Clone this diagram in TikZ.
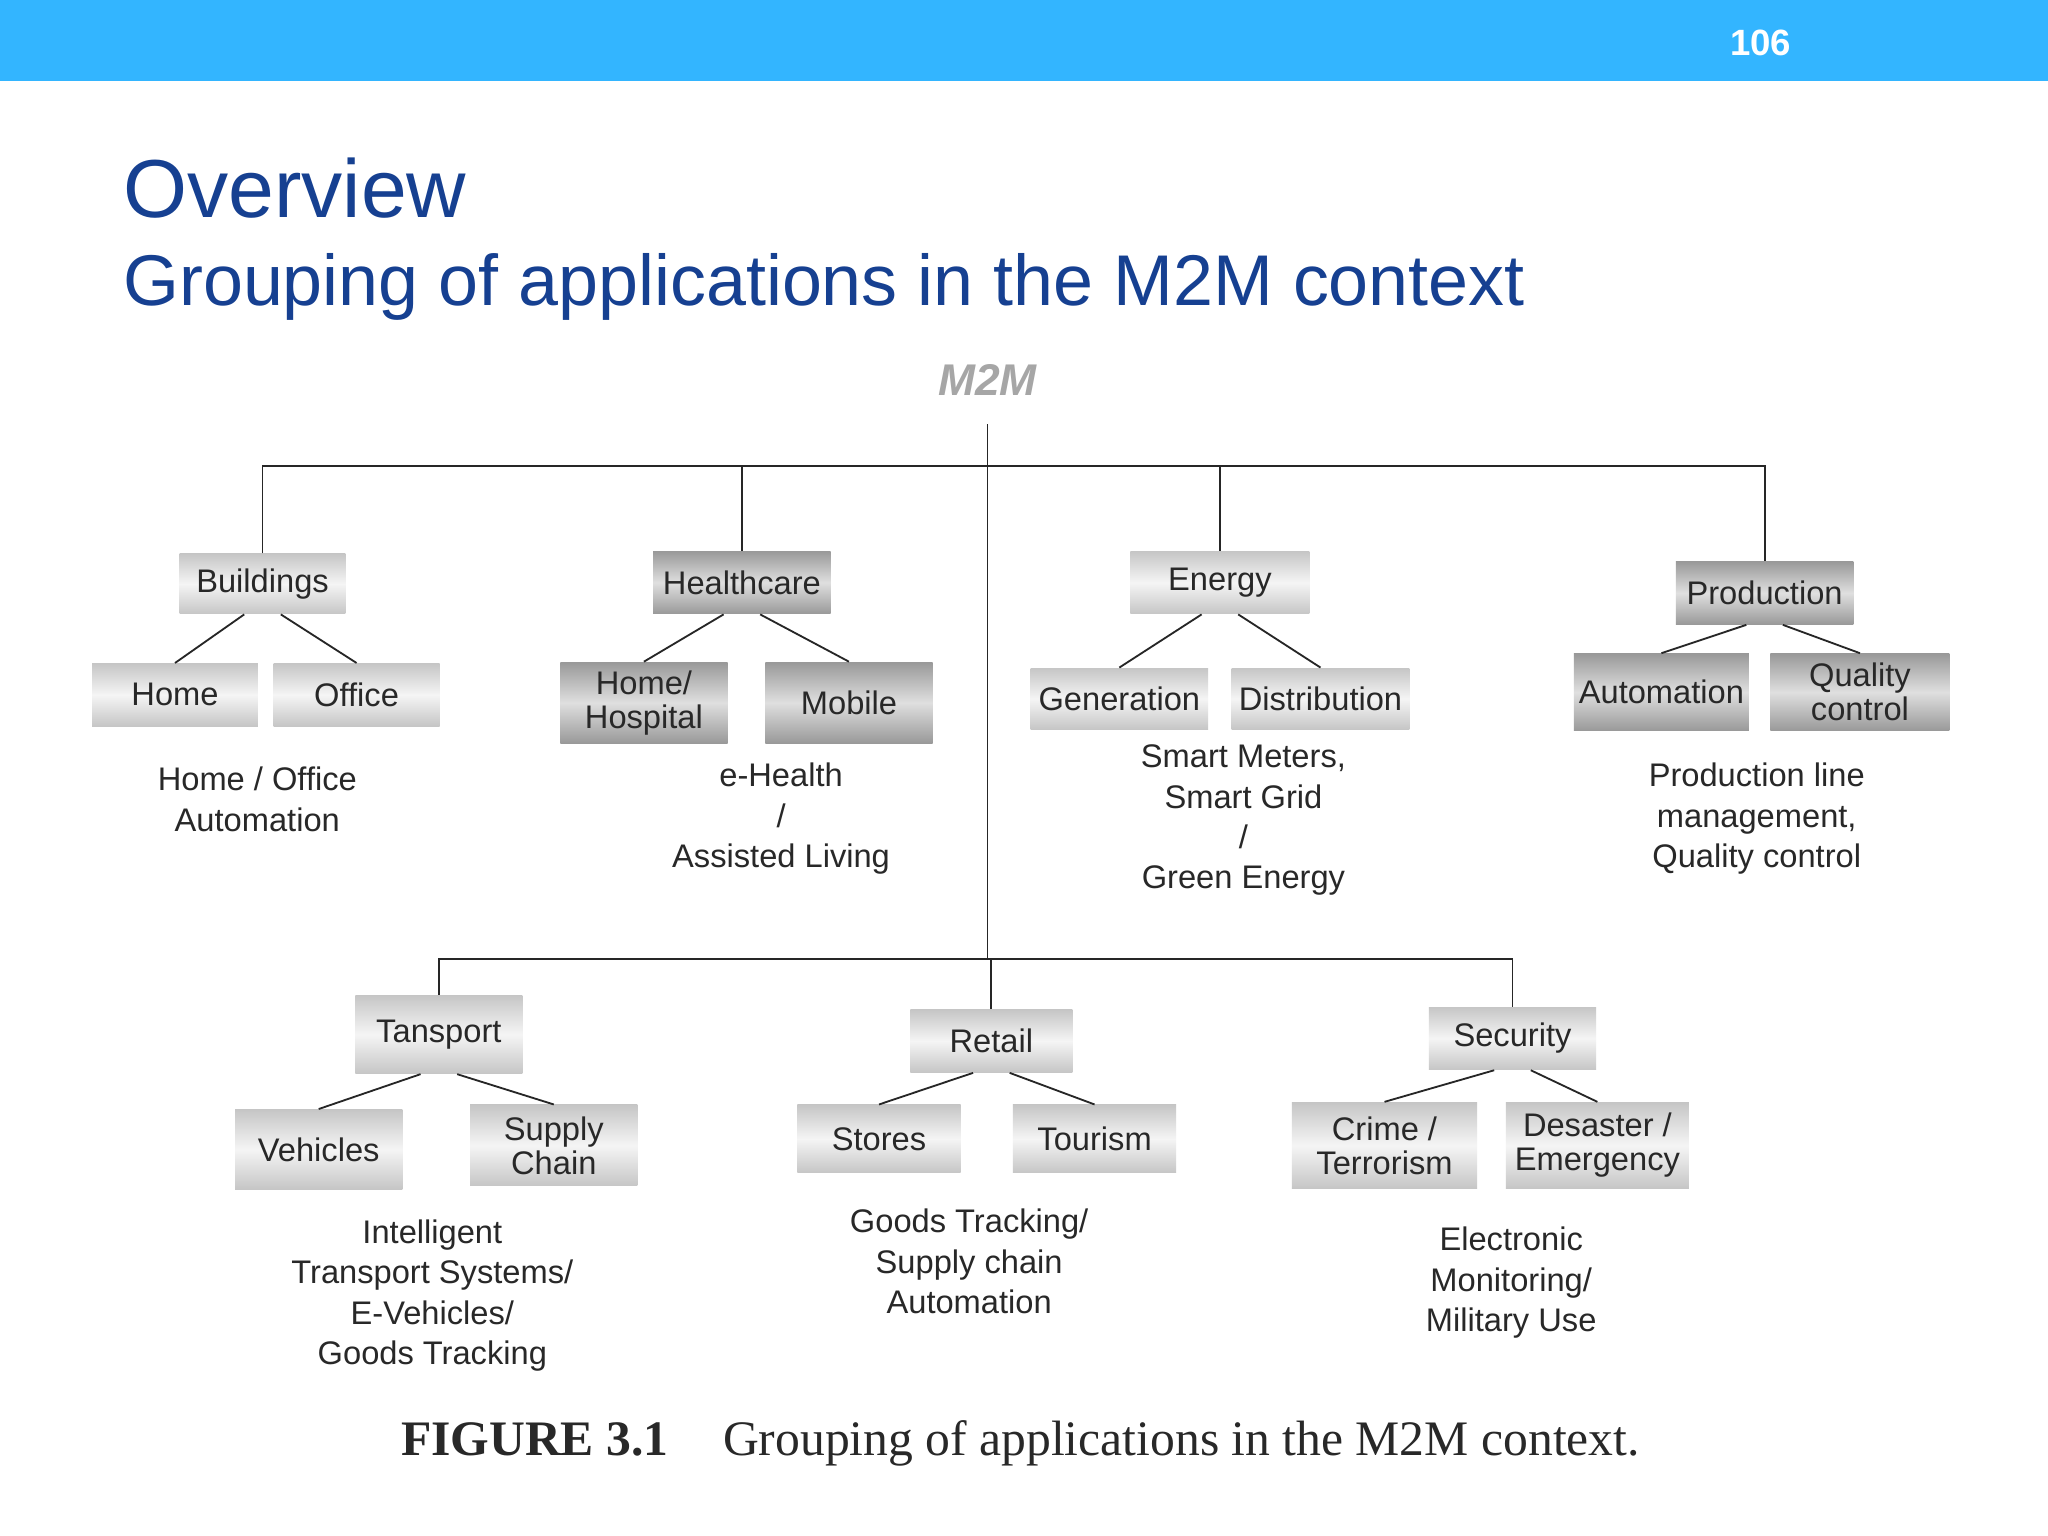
\documentclass[tikz,border=0pt]{standalone}
\usepackage{fontspec}
\setmainfont{Liberation Sans}
\newfontfamily\capfont{Liberation Serif}
\usepackage{tikz}
\usetikzlibrary{calc,positioning,shadings}
\definecolor{barblue}{RGB}{51,181,255}
\definecolor{titleblue}{RGB}{22,64,145}
\definecolor{txtgray}{RGB}{40,40,40}

\begin{document}
\begin{tikzpicture}[x=0.5pt,y=-0.5pt,
  lightbox/.style 2 args={minimum width=#1*0.5pt, minimum height=#2*0.5pt, top color=gray!45, bottom color=gray!45, middle color=gray!8, text=txtgray, font=\fontsize{12.5}{13}\selectfont, align=center, inner sep=0pt},
  darkbox/.style 2 args={minimum width=#1*0.5pt, minimum height=#2*0.5pt, top color=gray!80, bottom color=gray!80, middle color=gray!25, text=txtgray, font=\fontsize{12.5}{13}\selectfont, align=center, inner sep=0pt},
  desc/.style={text=txtgray, font=\fontsize{12.5}{15.5}\selectfont, align=center},
  link/.style={draw=black!85, line width=0.7pt}]
\useasboundingbox (0,0) rectangle (1568,1176);
\fill[white] (0,0) rectangle (1568,1176);
%Shape: header bar
\fill[barblue] (0,0) rectangle (1568,62);
\node[text=white, font=\bfseries\fontsize{14}{14}\selectfont] (pageno) at (1348,33) {106};
% Title
\node[anchor=west, text=titleblue, font=\fontsize{31.5}{32}\selectfont, inner sep=0pt] (title) at (94,144) {Overview};
\node[anchor=west, text=titleblue, font=\fontsize{27.5}{28}\selectfont, inner sep=0pt] (subtitle) at (94,220) {Grouping of applications in the M2M context};
% Root
\node[text=gray!70, font=\bfseries\itshape\fontsize{17}{17}\selectfont] (m2m) at (756,291) {M2M};
\coordinate (root) at (756,325);
\coordinate (hub) at (756,357);
\coordinate (hublow) at (756,734);

%Shape: upper groups
\node[lightbox={127}{46}] (bld) at (201,447) {Buildings};
\node[lightbox={127}{48}] (home) at (134,532) {Home};
\node[lightbox={127}{48}] (office) at (273,532) {Office};
\node[darkbox={136}{48}] (hc) at (568,446) {Healthcare};
\node[darkbox={128}{62}] (hosp) at (493,538) {Home/\\Hospital};
\node[darkbox={128}{62}] (mob) at (650,538) {Mobile};
\node[lightbox={137}{48}] (en) at (934,446) {Energy};
\node[lightbox={136}{47}] (gen) at (857,535) {Generation};
\node[lightbox={136}{47}] (dist) at (1011,535) {Distribution};
\node[darkbox={136}{48}] (prod) at (1351,454) {Production};
\node[darkbox={134}{59}] (auto) at (1272,530) {Automation};
\node[darkbox={137}{59}] (qc) at (1424,530) {Quality\\control};

%Shape: lower groups
\node[lightbox={128}{60}] (trans) at (336,792) {Tansport};
\node[lightbox={128}{61}] (veh) at (244,880) {Vehicles};
\node[lightbox={128}{62}] (sup) at (424,877) {Supply\\Chain};
\node[lightbox={124}{48}] (ret) at (759,797) {Retail};
\node[lightbox={125}{52}] (sto) at (673,872) {Stores};
\node[lightbox={125}{52}] (tour) at (838,872) {Tourism};
\node[lightbox={128}{48}] (sec) at (1158,795) {Security};
\node[lightbox={142}{66}] (crime) at (1060,877) {Crime /\\Terrorism};
\node[lightbox={140}{66}] (dis) at (1223,877) {Desaster /\\Emergency};

% Text Node
\node[desc] (d1) at (197,612) {Home / Office\\Automation};
\node[desc] (d2) at (598,627) {e-Health\\/\\Assisted Living};
\node[desc] (d3) at (952,628) {Smart Meters,\\Smart Grid\\/\\Green Energy};
\node[desc] (d4) at (1345,627) {Production line\\management,\\Quality control};
\node[desc] (d5) at (331,992) {Intelligent\\Transport Systems/\\E-Vehicles/\\Goods Tracking};
\node[desc] (d6) at (742,966) {Goods Tracking/\\Supply chain\\Automation};
\node[desc] (d7) at (1157,982) {Electronic\\Monitoring/\\Military Use};

% Tree
\draw[link] (root) -- (hublow);
\draw[link] (bld.north) -- (bld.north |- hub) -- (prod.north |- hub) -- (prod.north);
\draw[link] (hc.north) -- (hc.north |- hub);
\draw[link] (en.north) -- (en.north |- hub);
\draw[link] (trans.north) -- (trans.north |- hublow) -- (sec.north |- hublow) -- (sec.north);
\draw[link] (ret.north) -- (ret.north |- hublow);
\foreach \p/\a/\b in {bld/home/office,hc/hosp/mob,en/gen/dist,prod/auto/qc,trans/veh/sup,ret/sto/tour,sec/crime/dis}{
  \draw[link] ($(\p.south)+(-14,0)$) -- (\a.north);
  \draw[link] ($(\p.south)+(14,0)$) -- (\b.north);
}

% Caption
\node[anchor=west, text=txtgray, font=\capfont\fontsize{19}{19}\selectfont] (cap) at (300,1105) {\textbf{FIGURE 3.1}\hspace{1.1em}Grouping of applications in the M2M context.};
\end{tikzpicture}
\end{document}
